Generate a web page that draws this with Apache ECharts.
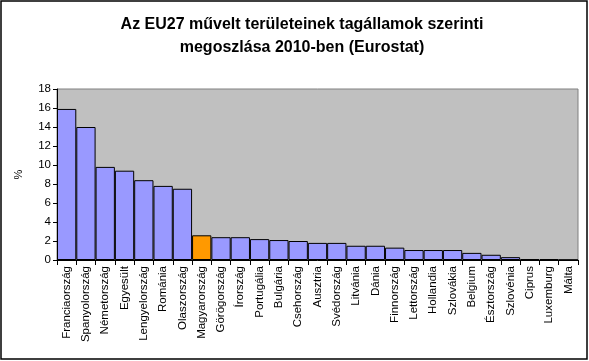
<!DOCTYPE html>
<html>
<head>
<meta charset="utf-8">
<script src="https://cdn.jsdelivr.net/npm/echarts@6/dist/echarts.min.js"></script>
<style>html,body{margin:0;padding:0;background:#fff}#c{width:589px;height:361px}</style>
</head>
<body>
<div id="c"></div>
<script>
const titleLines = ["Az EU27 művelt területeinek tagállamok szerinti", "megoszlása 2010-ben (Eurostat)"];
const categories = ["Franciaország","Spanyolország","Németország","Egyesült","Lengyelország","Románia","Olaszország","Magyarország","Görögország","Írország","Portugália","Bulgária","Csehország","Ausztria","Svédország","Litvánia","Dánia","Finnország","Lettország","Hollandia","Szlovákia","Belgium","Észtország","Szlovénia","Ciprus","Luxemburg","Málta"];
const values = [15.9,14.0,9.8,9.4,8.4,7.8,7.5,2.6,2.4,2.4,2.2,2.1,2.0,1.8,1.8,1.5,1.5,1.3,1.05,1.05,1.05,0.75,0.55,0.3,0.1,0.1,0.01];
const highlight = "Magyarország";
const yTicks = {min:0, max:18, interval:2};
const yName = "%";

const font = "'Liberation Sans', Arial, sans-serif";
const chart = echarts.init(document.getElementById('c'), null, {renderer:'canvas'});
chart.setOption({
  animation:false,
  backgroundColor:'#fff',
  title:{
    text: titleLines.join('\n'),
    left: 297, top: 8, textAlign:'center',
    textStyle:{fontFamily:font, fontSize:16, fontWeight:'bold', color:'#000', lineHeight:23}
  },
  grid:{left:57, right:11, top:89, bottom:101, show:true, backgroundColor:'#C0C0C0', borderColor:'#808080', borderWidth:1},
  xAxis:{
    type:'category', data:categories, boundaryGap:true,
    axisLine:{lineStyle:{color:'#000', width:1}},
    axisTick:{show:true, interval:0, alignWithLabel:false, length:5, lineStyle:{color:'#000'}},
    axisLabel:{interval:0, rotate:90, margin:6, fontFamily:font, fontSize:11.5, color:'#000'}
  },
  yAxis:{
    type:'value', min:yTicks.min, max:yTicks.max, interval:yTicks.interval,
    name:yName, nameLocation:'middle', nameRotate:90, nameGap:33,
    nameTextStyle:{fontFamily:font, fontSize:11, color:'#000'},
    axisLine:{show:true, lineStyle:{color:'#000', width:1}},
    axisTick:{show:true, length:4, lineStyle:{color:'#000'}},
    splitLine:{show:false},
    axisLabel:{fontFamily:font, fontSize:11.5, color:'#000', margin:6}
  },
  series:[{
    type:'bar', barCategoryGap:'0%',
    data: values.map((v,i)=>({value:v, itemStyle:{color: categories[i]===highlight ? '#FF9900' : '#9999FF'}})),
    itemStyle:{borderColor:'#000', borderWidth:1}
  }],
  graphic:[{type:'rect', shape:{x:1, y:1, width:586, height:358}, style:{fill:null, stroke:'#000', lineWidth:1.5}, silent:true}]
});
</script>
</body>
</html>
